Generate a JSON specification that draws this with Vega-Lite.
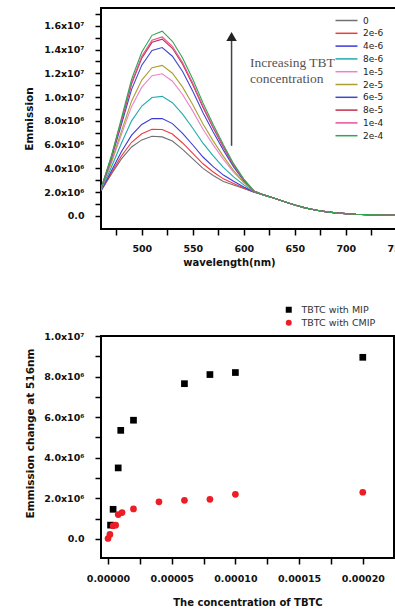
{
  "$schema": "https://vega.github.io/schema/vega-lite/v6.json",
  "padding": {"left": 23, "top": 7, "right": 0, "bottom": 0},
  "config": {
    "font": "DejaVu Sans",
    "view": {"stroke": "#000", "strokeWidth": 2},
    "axis": {"domain": false, "grid": false, "tickColor": "#000", "tickWidth": 1.5, "tickSize": 6, "labelFont": "DejaVu Sans", "labelFontWeight": "bold", "labelFontSize": 9.5, "labelColor": "#111", "titleFont": "DejaVu Sans", "titleFontWeight": "bold", "titleFontSize": 10, "titleColor": "#111", "labelFlush": false, "labelOverlap": false}
  },
  "resolve": {"scale": {"color": "independent", "shape": "independent"}, "legend": {"color": "independent", "shape": "independent"}},
  "align": "none",
  "spacing": 35,
  "vconcat": [
    {
      "width": 306,
      "height": 221,
      "resolve": {"axis": {"x": "independent", "y": "independent"}},
      "layer": [
        {
          "data": {"values": [
            {"c":"0","w":460,"e":2.1e6},{"c":"0","w":470,"e":3.5e6},{"c":"0","w":480,"e":4.8e6},{"c":"0","w":490,"e":5.8e6},{"c":"0","w":500,"e":6.4e6},{"c":"0","w":510,"e":6.7e6},{"c":"0","w":520,"e":6.65e6},{"c":"0","w":530,"e":6.3e6},{"c":"0","w":540,"e":5.6e6},{"c":"0","w":550,"e":4.8e6},{"c":"0","w":560,"e":4.0e6},{"c":"0","w":570,"e":3.4e6},{"c":"0","w":580,"e":2.9e6},{"c":"0","w":590,"e":2.6e6},{"c":"0","w":600,"e":2.3e6},{"c":"0","w":610,"e":2.0e6},
            {"c":"0","w":620,"e":1.75e6},{"c":"0","w":630,"e":1.48e6},{"c":"0","w":640,"e":1.2e6},{"c":"0","w":650,"e":0.92e6},{"c":"0","w":660,"e":0.68e6},{"c":"0","w":670,"e":0.5e6},{"c":"0","w":680,"e":0.36e6},{"c":"0","w":690,"e":0.26e6},{"c":"0","w":700,"e":0.19e6},{"c":"0","w":710,"e":0.14e6},{"c":"0","w":720,"e":0.11e6},{"c":"0","w":730,"e":0.09e6},{"c":"0","w":740,"e":0.08e6},{"c":"0","w":750,"e":0.07e6},{"c":"0","w":760,"e":0.06e6},
            {"c":"2e-6","w":460,"e":2.11e6},{"c":"2e-6","w":470,"e":3.61e6},{"c":"2e-6","w":480,"e":5.04e6},{"c":"2e-6","w":490,"e":6.2e6},{"c":"2e-6","w":500,"e":6.92e6},{"c":"2e-6","w":510,"e":7.3e6},{"c":"2e-6","w":520,"e":7.27e6},{"c":"2e-6","w":530,"e":6.89e6},{"c":"2e-6","w":540,"e":6.14e6},{"c":"2e-6","w":550,"e":5.27e6},{"c":"2e-6","w":560,"e":4.39e6},{"c":"2e-6","w":570,"e":3.7e6},{"c":"2e-6","w":580,"e":3.12e6},{"c":"2e-6","w":590,"e":2.73e6},{"c":"2e-6","w":600,"e":2.36e6},{"c":"2e-6","w":610,"e":2.01e6},
            {"c":"2e-6","w":620,"e":1.75e6},{"c":"2e-6","w":630,"e":1.48e6},{"c":"2e-6","w":640,"e":1.2e6},{"c":"2e-6","w":650,"e":0.92e6},{"c":"2e-6","w":660,"e":0.68e6},{"c":"2e-6","w":670,"e":0.5e6},{"c":"2e-6","w":680,"e":0.36e6},{"c":"2e-6","w":690,"e":0.26e6},{"c":"2e-6","w":700,"e":0.19e6},{"c":"2e-6","w":710,"e":0.14e6},{"c":"2e-6","w":720,"e":0.11e6},{"c":"2e-6","w":730,"e":0.09e6},{"c":"2e-6","w":740,"e":0.08e6},{"c":"2e-6","w":750,"e":0.07e6},{"c":"2e-6","w":760,"e":0.06e6},
            {"c":"4e-6","w":460,"e":2.14e6},{"c":"4e-6","w":470,"e":3.76e6},{"c":"4e-6","w":480,"e":5.4e6},{"c":"4e-6","w":490,"e":6.8e6},{"c":"4e-6","w":500,"e":7.7e6},{"c":"4e-6","w":510,"e":8.19e6},{"c":"4e-6","w":520,"e":8.2e6},{"c":"4e-6","w":530,"e":7.77e6},{"c":"4e-6","w":540,"e":6.95e6},{"c":"4e-6","w":550,"e":5.97e6},{"c":"4e-6","w":560,"e":4.96e6},{"c":"4e-6","w":570,"e":4.15e6},{"c":"4e-6","w":580,"e":3.44e6},{"c":"4e-6","w":590,"e":2.92e6},{"c":"4e-6","w":600,"e":2.44e6},{"c":"4e-6","w":610,"e":2.02e6},
            {"c":"4e-6","w":620,"e":1.75e6},{"c":"4e-6","w":630,"e":1.48e6},{"c":"4e-6","w":640,"e":1.2e6},{"c":"4e-6","w":650,"e":0.92e6},{"c":"4e-6","w":660,"e":0.68e6},{"c":"4e-6","w":670,"e":0.5e6},{"c":"4e-6","w":680,"e":0.36e6},{"c":"4e-6","w":690,"e":0.26e6},{"c":"4e-6","w":700,"e":0.19e6},{"c":"4e-6","w":710,"e":0.14e6},{"c":"4e-6","w":720,"e":0.11e6},{"c":"4e-6","w":730,"e":0.09e6},{"c":"4e-6","w":740,"e":0.08e6},{"c":"4e-6","w":750,"e":0.07e6},{"c":"4e-6","w":760,"e":0.06e6},
            {"c":"8e-6","w":460,"e":2.18e6},{"c":"8e-6","w":470,"e":4.08e6},{"c":"8e-6","w":480,"e":6.11e6},{"c":"8e-6","w":490,"e":8.0e6},{"c":"8e-6","w":500,"e":9.25e6},{"c":"8e-6","w":510,"e":9.97e6},{"c":"8e-6","w":520,"e":10.06e6},{"c":"8e-6","w":530,"e":9.53e6},{"c":"8e-6","w":540,"e":8.57e6},{"c":"8e-6","w":550,"e":7.38e6},{"c":"8e-6","w":560,"e":6.12e6},{"c":"8e-6","w":570,"e":5.06e6},{"c":"8e-6","w":580,"e":4.09e6},{"c":"8e-6","w":590,"e":3.29e6},{"c":"8e-6","w":600,"e":2.61e6},{"c":"8e-6","w":610,"e":2.04e6},
            {"c":"8e-6","w":620,"e":1.75e6},{"c":"8e-6","w":630,"e":1.48e6},{"c":"8e-6","w":640,"e":1.2e6},{"c":"8e-6","w":650,"e":0.92e6},{"c":"8e-6","w":660,"e":0.68e6},{"c":"8e-6","w":670,"e":0.5e6},{"c":"8e-6","w":680,"e":0.36e6},{"c":"8e-6","w":690,"e":0.26e6},{"c":"8e-6","w":700,"e":0.19e6},{"c":"8e-6","w":710,"e":0.14e6},{"c":"8e-6","w":720,"e":0.11e6},{"c":"8e-6","w":730,"e":0.09e6},{"c":"8e-6","w":740,"e":0.08e6},{"c":"8e-6","w":750,"e":0.07e6},{"c":"8e-6","w":760,"e":0.06e6},
            {"c":"1e-5","w":460,"e":2.22e6},{"c":"1e-5","w":470,"e":4.4e6},{"c":"1e-5","w":480,"e":6.84e6},{"c":"1e-5","w":490,"e":9.22e6},{"c":"1e-5","w":500,"e":10.84e6},{"c":"1e-5","w":510,"e":11.8e6},{"c":"1e-5","w":520,"e":11.96e6},{"c":"1e-5","w":530,"e":11.34e6},{"c":"1e-5","w":540,"e":10.22e6},{"c":"1e-5","w":550,"e":8.82e6},{"c":"1e-5","w":560,"e":7.3e6},{"c":"1e-5","w":570,"e":5.98e6},{"c":"1e-5","w":580,"e":4.76e6},{"c":"1e-5","w":590,"e":3.68e6},{"c":"1e-5","w":600,"e":2.78e6},{"c":"1e-5","w":610,"e":2.06e6},
            {"c":"1e-5","w":620,"e":1.75e6},{"c":"1e-5","w":630,"e":1.48e6},{"c":"1e-5","w":640,"e":1.2e6},{"c":"1e-5","w":650,"e":0.92e6},{"c":"1e-5","w":660,"e":0.68e6},{"c":"1e-5","w":670,"e":0.5e6},{"c":"1e-5","w":680,"e":0.36e6},{"c":"1e-5","w":690,"e":0.26e6},{"c":"1e-5","w":700,"e":0.19e6},{"c":"1e-5","w":710,"e":0.14e6},{"c":"1e-5","w":720,"e":0.11e6},{"c":"1e-5","w":730,"e":0.09e6},{"c":"1e-5","w":740,"e":0.08e6},{"c":"1e-5","w":750,"e":0.07e6},{"c":"1e-5","w":760,"e":0.06e6},
            {"c":"2e-5","w":460,"e":2.24e6},{"c":"2e-5","w":470,"e":4.52e6},{"c":"2e-5","w":480,"e":7.11e6},{"c":"2e-5","w":490,"e":9.68e6},{"c":"2e-5","w":500,"e":11.43e6},{"c":"2e-5","w":510,"e":12.48e6},{"c":"2e-5","w":520,"e":12.67e6},{"c":"2e-5","w":530,"e":12.01e6},{"c":"2e-5","w":540,"e":10.84e6},{"c":"2e-5","w":550,"e":9.36e6},{"c":"2e-5","w":560,"e":7.74e6},{"c":"2e-5","w":570,"e":6.32e6},{"c":"2e-5","w":580,"e":5.01e6},{"c":"2e-5","w":590,"e":3.82e6},{"c":"2e-5","w":600,"e":2.84e6},{"c":"2e-5","w":610,"e":2.07e6},
            {"c":"2e-5","w":620,"e":1.75e6},{"c":"2e-5","w":630,"e":1.48e6},{"c":"2e-5","w":640,"e":1.2e6},{"c":"2e-5","w":650,"e":0.92e6},{"c":"2e-5","w":660,"e":0.68e6},{"c":"2e-5","w":670,"e":0.5e6},{"c":"2e-5","w":680,"e":0.36e6},{"c":"2e-5","w":690,"e":0.26e6},{"c":"2e-5","w":700,"e":0.19e6},{"c":"2e-5","w":710,"e":0.14e6},{"c":"2e-5","w":720,"e":0.11e6},{"c":"2e-5","w":730,"e":0.09e6},{"c":"2e-5","w":740,"e":0.08e6},{"c":"2e-5","w":750,"e":0.07e6},{"c":"2e-5","w":760,"e":0.06e6},
            {"c":"6e-5","w":460,"e":2.27e6},{"c":"6e-5","w":470,"e":4.78e6},{"c":"6e-5","w":480,"e":7.69e6},{"c":"6e-5","w":490,"e":10.65e6},{"c":"6e-5","w":500,"e":12.69e6},{"c":"6e-5","w":510,"e":13.93e6},{"c":"6e-5","w":520,"e":14.17e6},{"c":"6e-5","w":530,"e":13.44e6},{"c":"6e-5","w":540,"e":12.15e6},{"c":"6e-5","w":550,"e":10.5e6},{"c":"6e-5","w":560,"e":8.68e6},{"c":"6e-5","w":570,"e":7.06e6},{"c":"6e-5","w":580,"e":5.54e6},{"c":"6e-5","w":590,"e":4.13e6},{"c":"6e-5","w":600,"e":2.98e6},{"c":"6e-5","w":610,"e":2.09e6},
            {"c":"6e-5","w":620,"e":1.75e6},{"c":"6e-5","w":630,"e":1.48e6},{"c":"6e-5","w":640,"e":1.2e6},{"c":"6e-5","w":650,"e":0.92e6},{"c":"6e-5","w":660,"e":0.68e6},{"c":"6e-5","w":670,"e":0.5e6},{"c":"6e-5","w":680,"e":0.36e6},{"c":"6e-5","w":690,"e":0.26e6},{"c":"6e-5","w":700,"e":0.19e6},{"c":"6e-5","w":710,"e":0.14e6},{"c":"6e-5","w":720,"e":0.11e6},{"c":"6e-5","w":730,"e":0.09e6},{"c":"6e-5","w":740,"e":0.08e6},{"c":"6e-5","w":750,"e":0.07e6},{"c":"6e-5","w":760,"e":0.06e6},
            {"c":"8e-5","w":460,"e":2.29e6},{"c":"8e-5","w":470,"e":4.9e6},{"c":"8e-5","w":480,"e":7.96e6},{"c":"8e-5","w":490,"e":11.1e6},{"c":"8e-5","w":500,"e":13.28e6},{"c":"8e-5","w":510,"e":14.61e6},{"c":"8e-5","w":520,"e":14.88e6},{"c":"8e-5","w":530,"e":14.11e6},{"c":"8e-5","w":540,"e":12.76e6},{"c":"8e-5","w":550,"e":11.03e6},{"c":"8e-5","w":560,"e":9.12e6},{"c":"8e-5","w":570,"e":7.4e6},{"c":"8e-5","w":580,"e":5.78e6},{"c":"8e-5","w":590,"e":4.27e6},{"c":"8e-5","w":600,"e":3.04e6},{"c":"8e-5","w":610,"e":2.09e6},
            {"c":"8e-5","w":620,"e":1.75e6},{"c":"8e-5","w":630,"e":1.48e6},{"c":"8e-5","w":640,"e":1.2e6},{"c":"8e-5","w":650,"e":0.92e6},{"c":"8e-5","w":660,"e":0.68e6},{"c":"8e-5","w":670,"e":0.5e6},{"c":"8e-5","w":680,"e":0.36e6},{"c":"8e-5","w":690,"e":0.26e6},{"c":"8e-5","w":700,"e":0.19e6},{"c":"8e-5","w":710,"e":0.14e6},{"c":"8e-5","w":720,"e":0.11e6},{"c":"8e-5","w":730,"e":0.09e6},{"c":"8e-5","w":740,"e":0.08e6},{"c":"8e-5","w":750,"e":0.07e6},{"c":"8e-5","w":760,"e":0.06e6},
            {"c":"1e-4","w":460,"e":2.29e6},{"c":"1e-4","w":470,"e":4.93e6},{"c":"1e-4","w":480,"e":8.03e6},{"c":"1e-4","w":490,"e":11.22e6},{"c":"1e-4","w":500,"e":13.43e6},{"c":"1e-4","w":510,"e":14.78e6},{"c":"1e-4","w":520,"e":15.06e6},{"c":"1e-4","w":530,"e":14.28e6},{"c":"1e-4","w":540,"e":12.92e6},{"c":"1e-4","w":550,"e":11.17e6},{"c":"1e-4","w":560,"e":9.23e6},{"c":"1e-4","w":570,"e":7.49e6},{"c":"1e-4","w":580,"e":5.85e6},{"c":"1e-4","w":590,"e":4.31e6},{"c":"1e-4","w":600,"e":3.06e6},{"c":"1e-4","w":610,"e":2.1e6},
            {"c":"1e-4","w":620,"e":1.75e6},{"c":"1e-4","w":630,"e":1.48e6},{"c":"1e-4","w":640,"e":1.2e6},{"c":"1e-4","w":650,"e":0.92e6},{"c":"1e-4","w":660,"e":0.68e6},{"c":"1e-4","w":670,"e":0.5e6},{"c":"1e-4","w":680,"e":0.36e6},{"c":"1e-4","w":690,"e":0.26e6},{"c":"1e-4","w":700,"e":0.19e6},{"c":"1e-4","w":710,"e":0.14e6},{"c":"1e-4","w":720,"e":0.11e6},{"c":"1e-4","w":730,"e":0.09e6},{"c":"1e-4","w":740,"e":0.08e6},{"c":"1e-4","w":750,"e":0.07e6},{"c":"1e-4","w":760,"e":0.06e6},
            {"c":"2e-4","w":460,"e":2.3e6},{"c":"2e-4","w":470,"e":5.0e6},{"c":"2e-4","w":480,"e":8.2e6},{"c":"2e-4","w":490,"e":11.5e6},{"c":"2e-4","w":500,"e":13.8e6},{"c":"2e-4","w":510,"e":15.2e6},{"c":"2e-4","w":520,"e":15.55e6},{"c":"2e-4","w":530,"e":14.7e6},{"c":"2e-4","w":540,"e":13.3e6},{"c":"2e-4","w":550,"e":11.5e6},{"c":"2e-4","w":560,"e":9.5e6},{"c":"2e-4","w":570,"e":7.7e6},{"c":"2e-4","w":580,"e":6.0e6},{"c":"2e-4","w":590,"e":4.4e6},{"c":"2e-4","w":600,"e":3.1e6},{"c":"2e-4","w":610,"e":2.1e6},
            {"c":"2e-4","w":620,"e":1.75e6},{"c":"2e-4","w":630,"e":1.48e6},{"c":"2e-4","w":640,"e":1.2e6},{"c":"2e-4","w":650,"e":0.92e6},{"c":"2e-4","w":660,"e":0.68e6},{"c":"2e-4","w":670,"e":0.5e6},{"c":"2e-4","w":680,"e":0.36e6},{"c":"2e-4","w":690,"e":0.26e6},{"c":"2e-4","w":700,"e":0.19e6},{"c":"2e-4","w":710,"e":0.14e6},{"c":"2e-4","w":720,"e":0.11e6},{"c":"2e-4","w":730,"e":0.09e6},{"c":"2e-4","w":740,"e":0.08e6},{"c":"2e-4","w":750,"e":0.07e6},{"c":"2e-4","w":760,"e":0.06e6}
          ]},
          "mark": {"type": "line", "strokeWidth": 1.1, "clip": true},
          "encoding": {
            "x": {"field": "w", "type": "quantitative", "title": "wavelength(nm)",
              "scale": {"domain": [460, 760], "nice": false, "zero": false},
              "axis": {"orient": "bottom", "values": [475,500,525,550,575,600,625,650,675,700,725,750], "labelExpr": "datum.value % 50 == 0 ? format(datum.value, 'd') : ''", "labelPadding": 8, "titlePadding": 5, "titleX": 128}},
            "y": {"field": "e", "type": "quantitative", "title": "Emmission",
              "scale": {"domain": [-1100000, 17500000], "nice": false, "zero": false},
              "axis": {"orient": "left", "values": [0,1000000,2000000,3000000,4000000,5000000,6000000,7000000,8000000,9000000,10000000,11000000,12000000,13000000,14000000,15000000,16000000,17000000], "labelExpr": "round(datum.value/1e6) % 2 != 0 ? '' : datum.value == 0 ? '0.0' : datum.value >= 1e7 ? format(datum.value/1e7, '.1f') + 'x10\u2077' : format(datum.value/1e6, '.1f') + 'x10\u2076'", "labelPadding": 11, "titlePadding": 9, "titleFontSize": 10.5}},
            "color": {"field": "c", "type": "nominal",
              "scale": {"domain": ["0","2e-6","4e-6","8e-6","1e-5","2e-5","6e-5","8e-5","1e-4","2e-4"], "range": ["#707070","#ee3b3b","#3a3ad8","#22aaaa","#ee82c8","#a8a030","#3f48cc","#c0304a","#e8509a","#2fa84f"]},
              "legend": {"orient": "none", "legendX": 239, "legendY": 6, "title": null, "symbolType": "M-2,0H2", "symbolSize": 121, "symbolStrokeWidth": 1.5, "labelOffset": 10, "labelFontSize": 9, "labelFont": "DejaVu Sans", "labelColor": "#222", "rowPadding": 0.8, "padding": 0}}
          }
        },
        {
          "data": {"values": [{"x": 588, "y": 5900000, "y2": 14800000}]},
          "mark": {"type": "rule", "color": "#444", "strokeWidth": 1.5},
          "encoding": {"x": {"field": "x", "type": "quantitative", "axis": null}, "y": {"field": "y", "type": "quantitative", "axis": null}, "y2": {"field": "y2"}}
        },
        {
          "data": {"values": [{"x": 588, "y": 15100000}]},
          "mark": {"type": "point", "shape": "triangle-up", "filled": true, "color": "#222", "size": 110, "opacity": 1},
          "encoding": {"x": {"field": "x", "type": "quantitative", "axis": null}, "y": {"field": "y", "type": "quantitative", "axis": null}}
        },
        {
          "data": {"values": [{"x": 606, "y": 12880000, "t": "Increasing TBT"}, {"x": 606, "y": 11540000, "t": "concentration"}]},
          "mark": {"type": "text", "align": "left", "baseline": "middle", "font": "Liberation Serif", "fontSize": 13.5, "color": "#555"},
          "encoding": {"x": {"field": "x", "type": "quantitative", "axis": null}, "y": {"field": "y", "type": "quantitative", "axis": null}, "text": {"field": "t"}}
        }
      ]
    },
    {
      "width": 293,
      "height": 222,
      "data": {"values": [
        {"s":"TBTC with MIP","x":0.000002,"v":680000},
        {"s":"TBTC with MIP","x":0.000004,"v":1460000},
        {"s":"TBTC with MIP","x":0.000008,"v":3500000},
        {"s":"TBTC with MIP","x":0.00001,"v":5350000},
        {"s":"TBTC with MIP","x":0.00002,"v":5850000},
        {"s":"TBTC with MIP","x":0.00006,"v":7650000},
        {"s":"TBTC with MIP","x":0.00008,"v":8100000},
        {"s":"TBTC with MIP","x":0.0001,"v":8200000},
        {"s":"TBTC with MIP","x":0.0002,"v":8950000},
        {"s":"TBTC with CMIP","x":0,"v":20000},
        {"s":"TBTC with CMIP","x":0.0000015,"v":220000},
        {"s":"TBTC with CMIP","x":0.000004,"v":650000},
        {"s":"TBTC with CMIP","x":0.000006,"v":680000},
        {"s":"TBTC with CMIP","x":0.000008,"v":1200000},
        {"s":"TBTC with CMIP","x":0.000011,"v":1300000},
        {"s":"TBTC with CMIP","x":0.00002,"v":1480000},
        {"s":"TBTC with CMIP","x":0.00004,"v":1830000},
        {"s":"TBTC with CMIP","x":0.00006,"v":1900000},
        {"s":"TBTC with CMIP","x":0.00008,"v":1950000},
        {"s":"TBTC with CMIP","x":0.0001,"v":2200000},
        {"s":"TBTC with CMIP","x":0.0002,"v":2300000}
      ]},
      "mark": {"type": "point", "filled": true, "size": 45, "opacity": 1},
      "encoding": {
        "x": {"field": "x", "type": "quantitative", "title": "The concentration of TBTC",
          "scale": {"domain": [-0.0000055, 0.0002245], "nice": false, "zero": false},
          "axis": {"values": [0, 0.000025, 0.00005, 0.000075, 0.0001, 0.000125, 0.00015, 0.000175, 0.0002], "labelExpr": "round(datum.value*1e6) % 50 == 0 ? format(datum.value, '.5f') : ''", "labelPadding": 9, "titlePadding": 15}},
        "y": {"field": "v", "type": "quantitative", "title": "Emmission change at 516nm",
          "scale": {"domain": [-940000, 10000000], "nice": false, "zero": false},
          "axis": {"values": [0,1000000,2000000,3000000,4000000,5000000,6000000,7000000,8000000,9000000,10000000], "labelExpr": "round(datum.value/1e6) % 2 != 0 ? '' : datum.value == 0 ? '0.0' : datum.value >= 1e7 ? format(datum.value/1e7, '.1f') + 'x10\u2077' : format(datum.value/1e6, '.1f') + 'x10\u2076'", "labelPadding": 11, "titlePadding": 8, "titleY": 97, "titleFontSize": 10.5}},
        "color": {"field": "s", "type": "nominal",
          "scale": {"domain": ["TBTC with MIP", "TBTC with CMIP"], "range": ["#000000", "#ee1c25"]},
          "legend": {"orient": "none", "legendX": 183, "legendY": -31, "title": null, "symbolSize": 36, "labelOffset": 8, "labelFontSize": 9.5, "labelFont": "DejaVu Sans", "labelColor": "#333", "rowPadding": 2, "padding": 0}},
        "shape": {"field": "s", "type": "nominal",
          "scale": {"domain": ["TBTC with MIP", "TBTC with CMIP"], "range": ["square", "circle"]}}
      }
    }
  ]
}
